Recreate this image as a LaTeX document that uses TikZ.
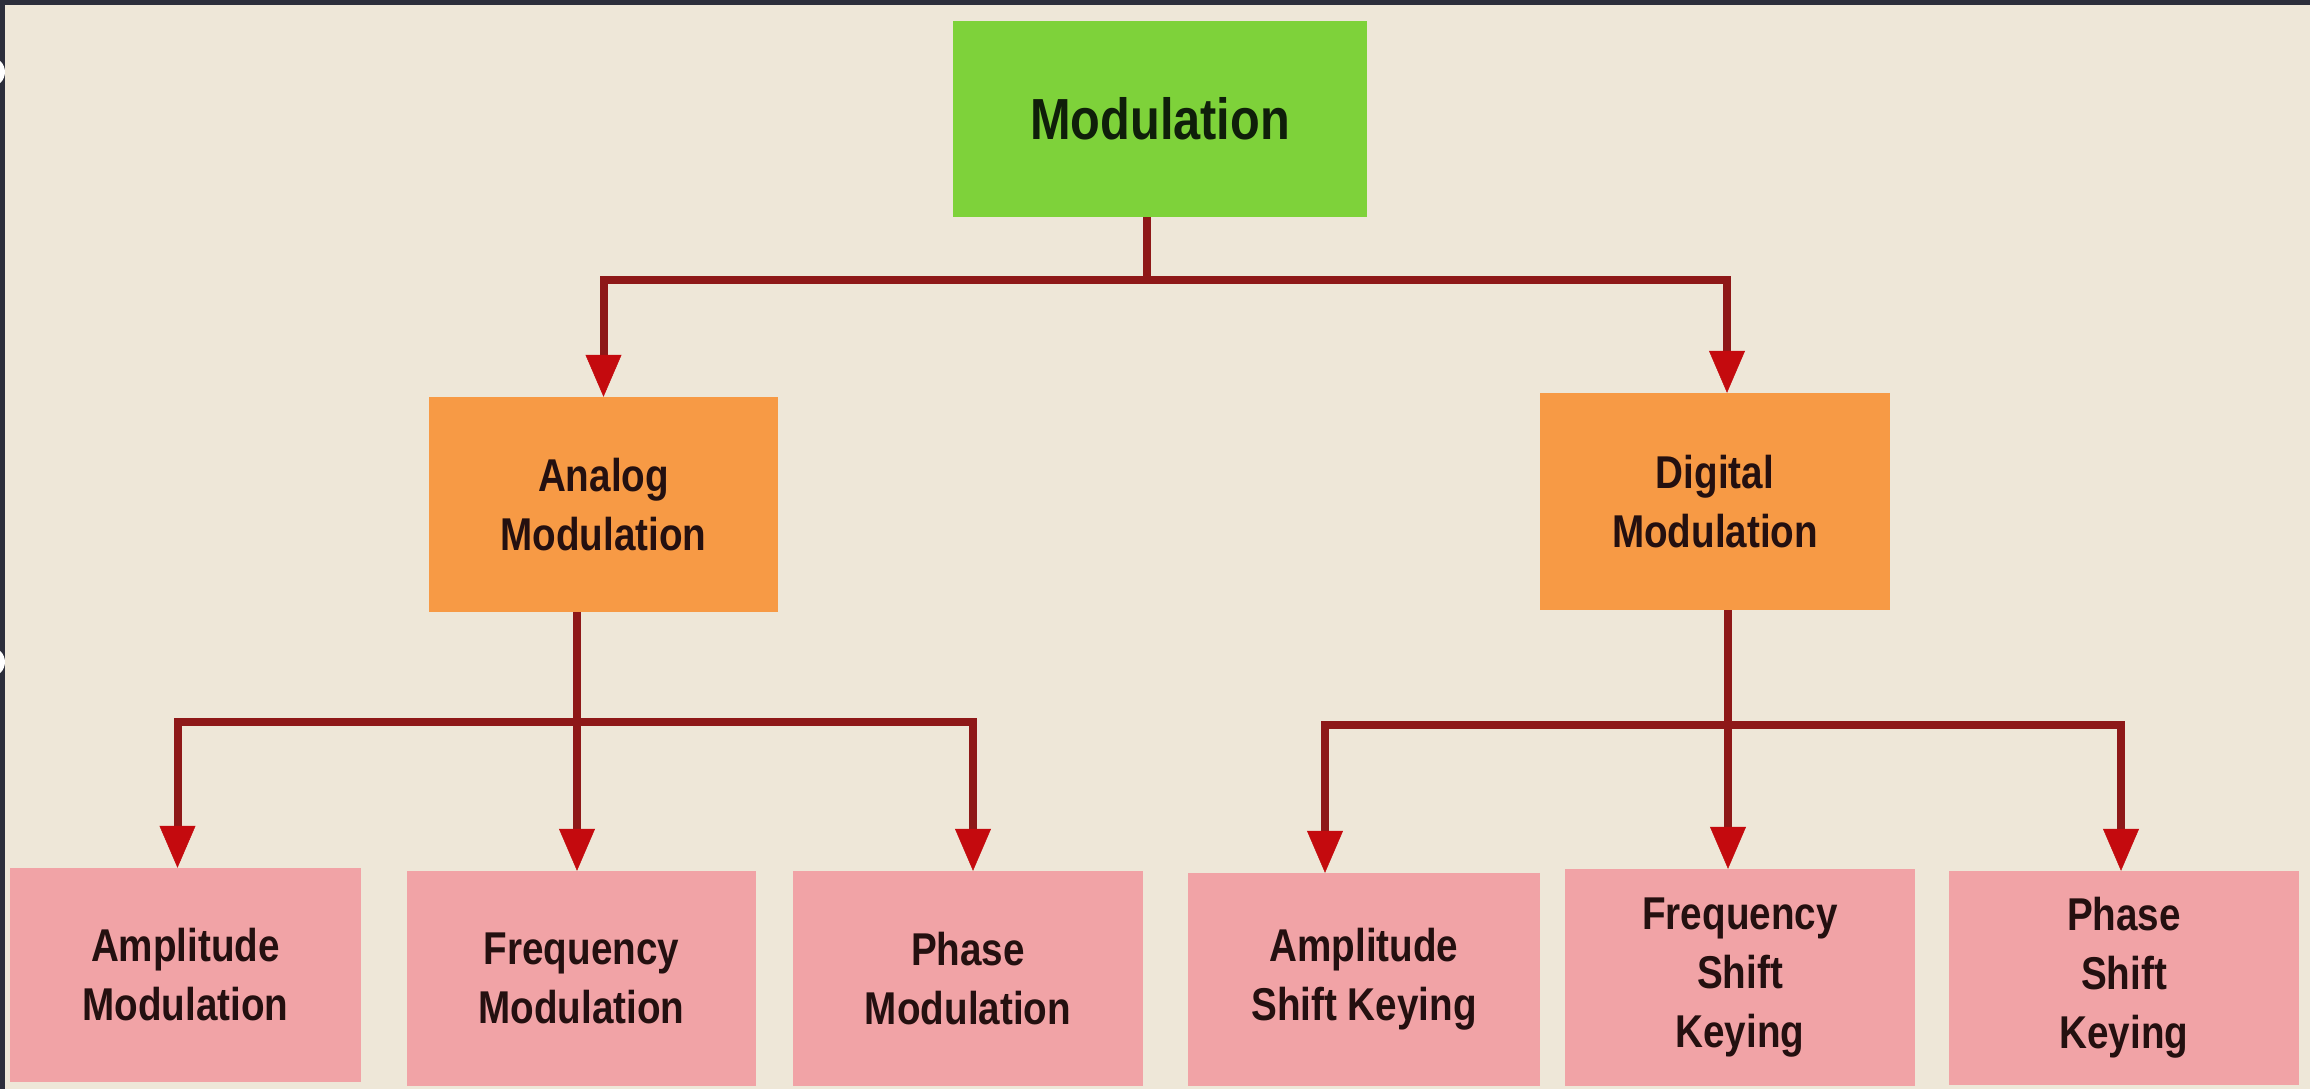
\documentclass[tikz,border=0pt]{standalone}
\usepackage{fontspec}
\setmainfont{Liberation Sans}[FakeStretch=0.84]
\usetikzlibrary{arrows.meta}
\definecolor{bg}{HTML}{EEE7D8}
\definecolor{frm}{HTML}{2C2E3B}
\definecolor{grn}{HTML}{7ED23A}
\definecolor{org}{HTML}{F79A45}
\definecolor{pnk}{HTML}{F1A3A6}
\definecolor{wirec}{HTML}{8E1818}
\definecolor{tipred}{HTML}{C40A0E}
\definecolor{txt}{HTML}{241010}
\definecolor{txtg}{HTML}{0F1F0A}
\begin{document}
\begin{tikzpicture}[x=1pt,y=-1pt,
  box/.style={rectangle, inner sep=0pt, align=center, text=txt,
    font=\bfseries\fontsize{46}{59}\selectfont},
  topbox/.style={box, fill=grn, text=txtg, font=\bfseries\fontsize{58}{70}\selectfont},
  midbox/.style={box, fill=org},
  leafbox/.style={box, fill=pnk},
  wire/.style={draw=wirec, line width=8pt},
  arr/.style={wire, -{Triangle[width=36pt,length=42pt,line width=0.5pt,color=tipred]}}]
\useasboundingbox (0,0) rectangle (2310,1089);
\fill[bg] (0,0) rectangle (2310,1089);
\fill[frm] (0,0) rectangle (2310,5);
\fill[frm] (0,0) rectangle (5,1089);
\begin{scope}
\clip (0,0) rectangle (2310,1089);
\fill[white] (-10,72) circle (15);
\fill[white] (-10,662) circle (15);
\end{scope}

% nodes
\node[topbox, minimum width=414pt, minimum height=196pt] (mod) at (1160,119) {Modulation};
\node[midbox, minimum width=349pt, minimum height=215pt] (ana) at (603.5,504.5) {Analog\\Modulation};
\node[midbox, minimum width=350pt, minimum height=217pt] (dig) at (1715,501.5) {Digital\\Modulation};
\node[leafbox, minimum width=351pt, minimum height=214pt] (am) at (185.5,975) {Amplitude\\Modulation};
\node[leafbox, minimum width=349pt, minimum height=215pt] (fm) at (581.5,978.5) {Frequency\\Modulation};
\node[leafbox, minimum width=350pt, minimum height=215pt] (pm) at (968,978.5) {Phase\\Modulation};
\node[leafbox, minimum width=352pt, minimum height=213pt] (ask) at (1364,979.5) {Amplitude\\Shift Keying};
\node[leafbox, minimum width=350pt, minimum height=217pt] (fsk) at (1740,977.5) {Frequency\\Shift\\Keying};
\node[leafbox, minimum width=350pt, minimum height=214pt] (psk) at (2124,978) {Phase\\Shift\\Keying};

% junctions
\coordinate (jt) at (1147,280);
\coordinate (jA) at (577,722);
\coordinate (jD) at (1728,725);

% connectors
\draw[wire] (mod.south -| jt) -- (jt);
\draw[arr] (jt) -| (ana.north);
\draw[arr] (jt) -| ([xshift=12pt]dig.north);

\draw[wire] (ana.south -| jA) -- (jA);
\draw[arr] (jA) -- (jA |- fm.north);
\draw[arr] (jA) -| ([xshift=-8pt]am.north);
\draw[arr] (jA) -| ([xshift=5pt]pm.north);

\draw[wire] (dig.south -| jD) -- (jD);
\draw[arr] (jD) -- (jD |- fsk.north);
\draw[arr] (jD) -| ([xshift=-39pt]ask.north);
\draw[arr] (jD) -| ([xshift=-3pt]psk.north);
\end{tikzpicture}
\end{document}
